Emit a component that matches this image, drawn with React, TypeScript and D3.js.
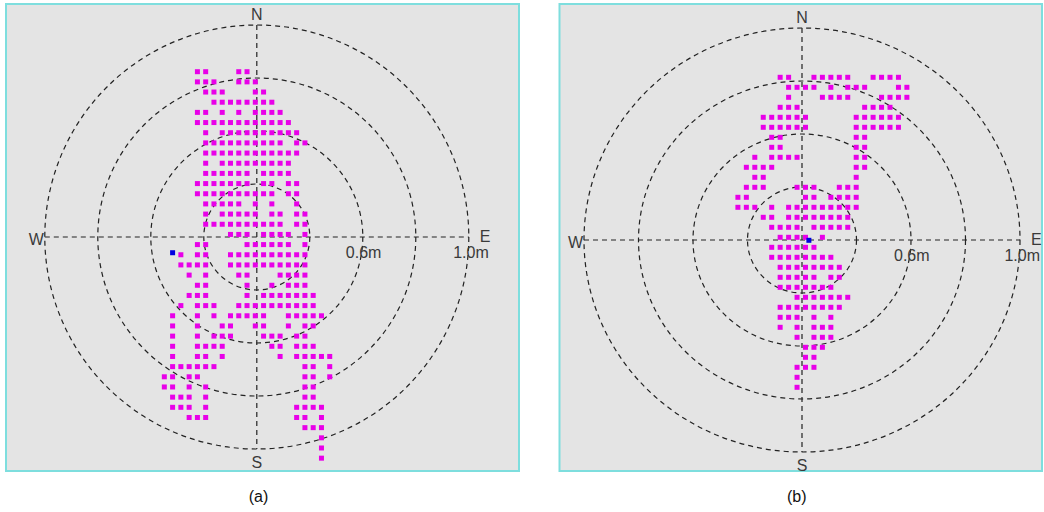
import React from 'react';
import * as d3 from 'd3';

// ---- data ----
const compass = ['N', 'E', 'S', 'W'];
const ringLabels = ['0.6m', '1.0m'];
const captions = ['(a)', '(b)'];
const ringCount = 4;

// occupied grid cells, one array per row (top row first), values = column offsets from the N-S axis
const gridA: number[][] = [
  [-7, -6, -2, -1],
  [-7, -6, -5, -2, -1, 0],
  [-6, -5, -4, 0, 1],
  [-5, -4, -3, -2, -1, 0, 1, 2],
  [-7, -6, -4, -2, 0, 1, 2, 3],
  [-7, -6, -5, -4, -3, -2, -1, 0, 1, 2, 3, 4],
  [-6, -4, -3, -2, -1, 0, 1, 2, 3, 4, 5],
  [-6, -5, -4, -3, -2, -1, 0, 1, 2, 3, 5, 6],
  [-6, -5, -4, -3, -2, -1, 0, 1, 2, 3, 4, 5],
  [-6, -4, -3, -2, -1, 0, 1, 2, 3, 4],
  [-6, -5, -4, -3, -2, -1, 1, 2, 3, 4],
  [-7, -6, -5, -4, -3, -2, -1, 1, 2, 4, 5],
  [-7, -6, -5, -4, -3, -2, -1, 0, 1, 2, 4, 5],
  [-6, -5, -4, -3, -2, 0, 2, 5],
  [-6, -4, -3, -2, -1, 0, 2, 3, 5, 6],
  [-6, -5, -4, -3, -2, -1, 0, 1, 2, 3, 5, 6],
  [-3, -2, -1, 1, 2, 3, 4, 6],
  [-7, -6, -1, 0, 1, 2, 3, 4, 6],
  [-9, -7, -6, -3, -2, -1, 0, 1, 2, 3, 4, 5, 6],
  [-9, -8, -7, -6, -3, -2, -1, 0, 1, 2, 3, 4, 5, 6],
  [-8, -6, -2, -1, 3, 4, 5, 6],
  [-7, -6, -1, 2, 4, 5, 6],
  [-8, -7, -6, -1, 1, 2, 3, 4, 5, 6, 7],
  [-9, -7, -6, -5, -2, -1, 0, 1, 2, 3, 4, 5, 6, 7],
  [-10, -7, -5, -3, -2, -1, 0, 1, 4, 5, 6, 7, 8],
  [-10, -7, -4, -3, 0, 1, 4, 6, 7],
  [-10, -7, -5, -4, -3, 1, 2, 3, 5, 6],
  [-10, -7, -6, -5, -4, 2, 3, 5, 6, 7],
  [-10, -7, -6, -4, 3, 5, 6, 7, 8, 9],
  [-10, -9, -8, -7, -6, -5, 6, 7, 9],
  [-11, -10, -8, -7, 6, 7, 9],
  [-11, -10, -8, -6, 6, 7],
  [-10, -9, -8, -6, 6, 7],
  [-10, -9, -8, -6, 5, 6, 7, 8],
  [-8, -7, -6, 5, 6, 8],
  [6, 7, 8],
  [8],
  [8],
  [8],
];

const gridB: number[][] = [
  [-3, -2, 1, 2, 3, 4, 5, 8, 9, 10, 11],
  [-2, -1, 0, 1, 3, 5, 6, 7, 11, 12],
  [-2, 2, 3, 4, 5, 9, 10, 11, 12],
  [-3, -2, -1, 7, 8, 9, 10],
  [-5, -4, -3, -2, -1, 0, 6, 7, 8, 9, 10, 11],
  [-5, -4, -3, -2, -1, 0, 6, 7, 8, 9, 10, 11],
  [-4, -3, 6, 7],
  [-4, -3, 6, 7],
  [-6, -4, -3, -2, -1, 6, 7],
  [-7, -6, -5, -4, 6, 7],
  [-6, -5, 6],
  [-7, -6, -5, -1, 0, 1, 4, 5, 6],
  [-8, -7, 0, 1, 3, 4, 5, 6],
  [-8, -7, -6, -4, -2, -1, 0, 1, 2, 3, 4, 5, 6],
  [-5, -4, -2, -1, 0, 1, 2, 3, 4, 5],
  [-4, -3, -2, -1, 1, 2, 3, 4, 5],
  [-3, -2, -1, 0, 2],
  [-4, -3, -2, -1, 0, 1],
  [-4, -3, -2, -1, 0, 1, 2, 3],
  [-3, -2, -1, 0, 1, 2, 3, 4],
  [-3, -2, -1, 0, 1, 3, 4],
  [-3, -2, -1, 0, 1, 2, 3],
  [-1, 0, 1, 2, 3, 4, 5],
  [-3, -2, -1, 0, 1, 2, 3, 4],
  [-3, -2, -1, 1, 3],
  [-3, -1, 1, 2, 3],
  [-1, 1, 2, 3],
  [0, 1, 2],
  [0, 1],
  [-1, 0, 1],
  [-1],
  [-1],
];

// current position marker [column, row]
const blueA = [-10, 17.8];
const blueB = [0.4, 16.3];

// ---- layout ----
interface PanelCfg {
  left: number; top: number; right: number; bottom: number;
  cx: number; cy: number; rx: number; ry: number;
  col0: number; colStep: number; row0: number; rowStep: number;
  grid: number[][]; blue: number[]; caption: string;
}

const panels: PanelCfg[] = [
  { left: 6, top: 4, right: 519, bottom: 471, cx: 256.8, cy: 237, rx: 212, ry: 212,
    col0: 255.3, colStep: 8.27, row0: 71.7, rowStep: 10.17, grid: gridA, blue: blueA, caption: captions[0] },
  { left: 559.5, top: 4, right: 1042, bottom: 471, cx: 802, cy: 240, rx: 218, ry: 212,
    col0: 805.5, colStep: 8.45, row0: 77.3, rowStep: 10.0, grid: gridB, blue: blueB, caption: captions[1] },
];

const DOT = 5;
const MAGENTA = '#e800e8';
const BLUE = '#0000e0';
const LINE = '#222';
const TEXT = '#3a3a3a';
const FONT = 'Arial, "Liberation Sans", sans-serif';

function Panel({ p }: { p: PanelCfg }) {
  const xs = d3.scaleLinear().domain([0, 1]).range([p.col0, p.col0 + p.colStep]);
  const ys = d3.scaleLinear().domain([0, 1]).range([p.row0, p.row0 + p.rowStep]);
  const rk = d3.scaleLinear().domain([0, ringCount]).range([0, 1]);
  const rings = d3.range(1, ringCount + 1);
  const cells = p.grid.flatMap((cols, r) => cols.map((c) => ({ c, r })));
  const r2x = p.rx * rk(2);
  return (
    <g>
      <rect x={p.left} y={p.top} width={p.right - p.left} height={p.bottom - p.top}
        fill="#e4e4e4" stroke="#7edede" strokeWidth={2} />
      {rings.map((i) => (
        <ellipse key={i} cx={p.cx} cy={p.cy} rx={p.rx * rk(i)} ry={p.ry * rk(i)}
          fill="none" stroke={LINE} strokeWidth={1.2} strokeDasharray="5 4" />
      ))}
      <line x1={p.cx - p.rx} x2={p.cx + p.rx} y1={p.cy} y2={p.cy} stroke={LINE} strokeWidth={1.2} strokeDasharray="5 4" />
      <line x1={p.cx} x2={p.cx} y1={p.cy - p.ry} y2={p.cy + p.ry} stroke={LINE} strokeWidth={1.2} strokeDasharray="5 4" />
      {cells.map(({ c, r }, i) => (
        <rect key={i} x={xs(c) - DOT / 2} y={ys(r) - DOT / 2} width={DOT} height={DOT} fill={MAGENTA} />
      ))}
      <rect x={xs(p.blue[0]) - DOT / 2} y={ys(p.blue[1]) - DOT / 2} width={DOT} height={DOT} fill={BLUE} />
      <g fontFamily={FONT} fontSize={16} fill={TEXT}>
        <text x={p.cx} y={p.cy - p.ry - 5} textAnchor="middle">{compass[0]}</text>
        <text x={p.cx + p.rx + 11} y={p.cy + 5}>{compass[1]}</text>
        <text x={p.cx} y={p.cy + p.ry + 19} textAnchor="middle">{compass[2]}</text>
        <text x={p.cx - p.rx - 1} y={p.cy + 8} textAnchor="end">{compass[3]}</text>
        <text x={p.cx + r2x - 17} y={p.cy + 21}>{ringLabels[0]}</text>
        <text x={p.cx + p.rx + 20} y={p.cy + 21} textAnchor="end">{ringLabels[1]}</text>
      </g>
      <text x={(p.left + p.right) / 2 - 4} y={502} textAnchor="middle" fontFamily={FONT} fontSize={16} fill="#111">{p.caption}</text>
    </g>
  );
}

export default function App() {
  return (
    <svg width={1044} height={512} style={{ position: 'absolute', left: 0, top: 0, background: '#fff' }}>
      {panels.map((p, i) => <Panel key={i} p={p} />)}
    </svg>
  );
}
